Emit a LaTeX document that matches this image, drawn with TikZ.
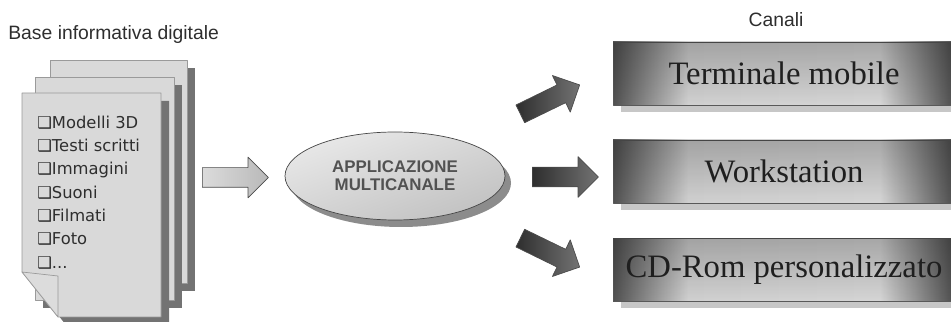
\documentclass[tikz,border=0pt]{standalone}
\usepackage{fontspec}
\setmainfont{Liberation Serif}
\newfontfamily\arialfont{Liberation Sans}
\newfontfamily\listfont{DejaVu Sans}
\usepackage{tikz}
\usetikzlibrary{shapes.geometric,shapes.arrows,shadows,fadings}
\usepackage{xcolor}
\definecolor{pagefill}{HTML}{D9D9D9}
\definecolor{pageline}{HTML}{9A9A9A}
\definecolor{pageshadow}{HTML}{737373}
\definecolor{inkgray}{HTML}{2E2E2E}
\pgfdeclarehorizontalshading{chanshade}{100bp}{color(0bp)=(black!68); color(25bp)=(black!68);
  color(36bp)=(black!18); color(64bp)=(black!16); color(75bp)=(black!70); color(100bp)=(black!70)}
\tikzfading[name=topdark, top color=transparent!0, middle color=transparent!95, bottom color=transparent!100]
\tikzset{
  pagesheet/.style={fill=pagefill,draw=pageline,drop shadow={shadow xshift=0.16cm,shadow yshift=-0.16cm,fill=pageshadow,opacity=1}},
  itemtext/.style={anchor=base west,inner sep=0pt,font=\listfont\fontsize{9.3}{11}\selectfont,text=inkgray},
  labeltext/.style={inner sep=0pt,font=\arialfont\fontsize{11}{13}\selectfont,text=inkgray},
  appnode/.style={ellipse,draw=gray!55!black,top color=gray!18,bottom color=gray!48,shading angle=20,
    minimum width=4.4cm,minimum height=1.76cm,inner sep=0pt,align=center,
    font=\arialfont\bfseries\fontsize{9.6}{10.4}\selectfont,text=black!68,
    drop shadow={shadow xshift=0.12cm,shadow yshift=-0.14cm,fill=black!45,opacity=1}},
  chanbox/.style={draw=black!65,shading=chanshade,minimum width=6.84cm,minimum height=1.26cm,
    font=\fontsize{18.6}{20}\selectfont,text=black!88,
    postaction={fill=black,opacity=0.22,path fading=topdark},
    drop shadow={shadow xshift=0.16cm,shadow yshift=-0.14cm,fill=black!22,opacity=1}},
  blockarr/.style={single arrow,anchor=tail,minimum height=1.32cm,inner xsep=0pt,inner ysep=0.19cm,
    single arrow head extend=0.21cm},
  inarrow/.style={blockarr,draw=gray!60!black,left color=gray!28,right color=gray!55},
  outarrow/.style={blockarr,draw=black!70,left color=black!82,right color=black!55}
}
\begin{document}
\begin{tikzpicture}[line join=round]
\useasboundingbox (0,0) rectangle (19.02,6.44);
% document stack
\filldraw[pagesheet] (1.0,0.78) rectangle (3.74,5.24);
\filldraw[pagesheet] (0.7,0.44) rectangle (3.48,4.90);
\filldraw[pagesheet] (0.44,1.0) -- (0.44,4.58) -- (3.22,4.58) -- (3.22,0.10) -- (1.16,0.10) -- cycle;
\filldraw[fill=pagefill!92!white,draw=pageline] (0.44,1.0) -- (1.16,0.92) -- (1.16,0.10) -- cycle;
\node[labeltext,anchor=west] (basetitle) at (0.16,5.74) {Base informativa digitale};
\node[itemtext] (item1) at (0.74,3.86) {❑Modelli 3D};
\node[itemtext] (item2) at (0.74,3.40) {❑Testi scritti};
\node[itemtext] (item3) at (0.74,2.94) {❑Immagini};
\node[itemtext] (item4) at (0.74,2.46) {❑Suoni};
\node[itemtext] (item5) at (0.74,2.00) {❑Filmati};
\node[itemtext] (item6) at (0.74,1.54) {❑Foto};
\node[itemtext] (item7) at (0.74,1.06) {❑...};
% application
\node[inarrow] (toApp) at (4.04,2.89) {};
\node[appnode] (app) at (7.90,2.92) {APPLICAZIONE\\MULTICANALE};
% channels
\node[outarrow,rotate=26] (toMobile) at (10.40,4.16) {};
\node[outarrow] (toWork) at (10.64,2.90) {};
\node[outarrow,rotate=-26] (toCd) at (10.40,1.68) {};
\node[labeltext] (canali) at (15.52,6.04) {Canali};
\node[chanbox] (mobile) at (15.68,4.97) {Terminale mobile};
\node[chanbox] (work) at (15.68,3.01) {Workstation};
\node[chanbox] (cdrom) at (15.68,1.04) {CD-Rom personalizzato};
\end{tikzpicture}
\end{document}
